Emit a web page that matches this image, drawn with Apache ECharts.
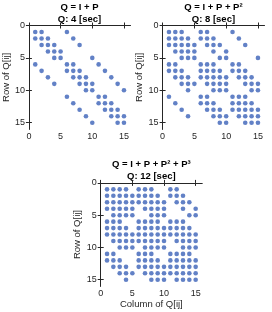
<!DOCTYPE html>
<html><head><meta charset="utf-8">
<script src="https://cdn.jsdelivr.net/npm/echarts@6/dist/echarts.min.js"></script>
<style>html,body{margin:0;padding:0;background:#fff}#c{width:272px;height:312px}</style>
</head><body><div id="c"></div>
<script>
// Tick labels of every axis
const tickValues = [0, 5, 10, 15];
const axisMin = 0;
const axisMax = 16;

// Non-zero pattern: for each row (1..15) the columns that hold a non-zero entry
const q1Rows = [
  [1,2,6],
  [1,2,3,7],
  [2,3,4,8],
  [3,4,5],
  [4,5,10],
  [1,6,7,11],
  [2,6,7,8,12],
  [3,7,8,9,13],
  [4,8,9,10,14],
  [9,10,15],
  [6,11,12],
  [7,11,12,13],
  [8,12,13,14],
  [9,13,14,15],
  [10,14,15]
];
const q2Rows = [
  [1,2,3,6,7,11],
  [1,2,3,4,6,7,8,12],
  [1,2,3,4,5,7,8,9,13],
  [2,3,4,5,8,10],
  [3,4,5,9,10,15],
  [1,2,6,7,8,11,12],
  [1,2,3,6,7,8,9,11,12,13],
  [2,3,4,6,7,8,9,10,12,13,14],
  [3,4,5,7,8,9,10,13,14,15],
  [4,8,9,10,14,15],
  [1,6,7,11,12,13],
  [2,6,7,8,11,12,13,14],
  [3,7,8,9,11,12,13,14,15],
  [4,8,9,10,12,13,14,15],
  [9,10,13,14,15]
];
const q3Rows = [
  [1,2,3,4,6,7,8,11,12],
  [1,2,3,4,5,6,7,8,9,11,12,13],
  [1,2,3,4,5,6,7,8,9,10,12,13,14],
  [1,2,3,4,5,7,8,9,10,13,15],
  [2,3,4,5,8,9,10,14,15],
  [1,2,3,6,7,8,9,11,12,13],
  [1,2,3,4,6,7,8,9,10,11,12,13,14],
  [1,2,3,4,5,6,7,8,9,10,11,12,13,14,15],
  [2,3,4,5,6,7,8,9,10,12,13,14,15],
  [3,4,5,7,8,9,10,13,14,15],
  [1,2,6,7,8,11,12,13,14],
  [1,2,3,6,7,8,9,11,12,13,14,15],
  [2,3,4,6,7,8,9,10,11,12,13,14,15],
  [3,4,5,7,8,9,10,11,12,13,14,15],
  [4,8,9,10,12,13,14,15]
];

const titleLine1 = ['Q = I + P', 'Q = I + P + P\u00B2', 'Q = I + P + P\u00B2 + P\u00B3'];
const titleLine2 = ['Q: 4 [sec]', 'Q: 8 [sec]', 'Q: 12 [sec]'];
const yName = 'Row of Q[ij]';
const xName = 'Column of Q[ij]';

const FONT = 'Liberation Sans, Arial, Helvetica, sans-serif';
const DOT = '#3b62b8';
const AX = '#262626';

const grids = [
  {left: 28.7, top: 25.5, width: 101.6, height: 103.7},
  {left: 162.6, top: 25.5, width: 101.7, height: 103.7},
  {left: 100.7, top: 182.9, width: 101.3, height: 103.3}
];
const yNameGaps = [14.5, 11.5, 12.5];
const matrices = [q1Rows, q2Rows, q3Rows];
const showXName = [false, false, true];

const toPoints = rows => rows.flatMap((cols, i) => cols.map(c => [c, i + 1]));

const xAxes = [], yAxes = [], series = [], graphics = [];
grids.forEach((g, k) => {
  const base = {
    type: 'value', gridIndex: k, min: axisMin, max: axisMax,
    splitLine: {show: false},
    axisLine: {show: true, lineStyle: {color: AX, width: 1}},
    axisTick: {show: true, inside: true, length: 3, customValues: tickValues, lineStyle: {color: AX}},
  };
  xAxes.push(Object.assign({}, base, {
    position: 'bottom',
    axisLabel: {customValues: tickValues, fontSize: 9, color: AX, fontFamily: FONT, margin: 3},
    name: showXName[k] ? xName : '', nameLocation: 'middle', nameGap: 13,
    nameTextStyle: {fontSize: 9.5, color: AX, fontFamily: FONT}
  }));
  xAxes.push(Object.assign({}, base, {
    position: 'top', axisLabel: {show: false}
  }));
  yAxes.push(Object.assign({}, base, {
    position: 'left', inverse: true,
    axisLabel: {customValues: tickValues, fontSize: 9, color: AX, fontFamily: FONT, margin: 4},
    name: yName, nameLocation: 'middle', nameGap: yNameGaps[k],
    nameTextStyle: {fontSize: 9.5, color: AX, fontFamily: FONT}
  }));
  yAxes.push(Object.assign({}, base, {
    position: 'right', inverse: true, axisLabel: {show: false}
  }));
  series.push({
    type: 'scatter', xAxisIndex: 2 * k, yAxisIndex: 2 * k,
    symbol: 'circle', symbolSize: 4.6, silent: true,
    itemStyle: {color: DOT},
    data: toPoints(matrices[k])
  });
  const cx = g.left + g.width / 2;
  graphics.push({type: 'text', x: cx, y: g.top - 18.5, style: {text: titleLine1[k], fill: '#000', font: 'bold 9.5px ' + FONT, textAlign: 'center', textVerticalAlign: 'middle'}});
  graphics.push({type: 'text', x: cx, y: g.top - 6.5, style: {text: titleLine2[k], fill: '#000', font: 'bold 9.5px ' + FONT, textAlign: 'center', textVerticalAlign: 'middle'}});
});

const chart = echarts.init(document.getElementById('c'), null, {renderer: 'canvas'});
chart.setOption({
  backgroundColor: '#fff',
  animation: false,
  grid: grids,
  xAxis: xAxes,
  yAxis: yAxes,
  series: series,
  graphic: graphics
});
</script>
</body></html>
